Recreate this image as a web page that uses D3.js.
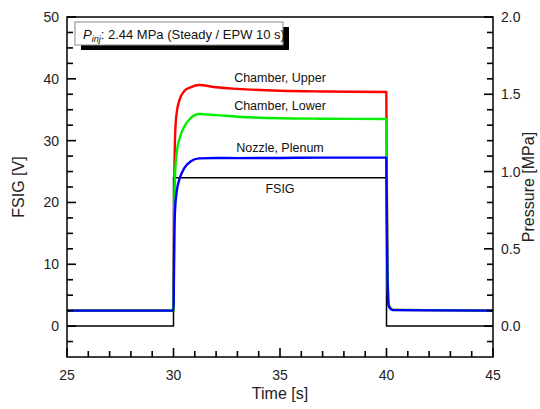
<!DOCTYPE html>
<html>
<head>
<meta charset="utf-8">
<script src="https://cdn.jsdelivr.net/npm/d3@7"></script>
</head>
<body style="margin:0;background:#fff">
<div id="chart"></div>
<script>
// time axis [s]
const time = [25, 30, 30.04, 30.08, 30.15, 30.3, 30.5, 30.8, 31.2, 32.0, 33.0, 35.0, 37.0, 39.99, 40.03, 40.1, 40.3, 45];
// pressures [MPa]
const chamberUpper = [0.1, 0.1, 0.95, 1.25, 1.38, 1.47, 1.52, 1.545, 1.56, 1.545, 1.535, 1.523, 1.518, 1.515, 0.6, 0.14, 0.105, 0.1];
const chamberLower = [0.1, 0.1, 0.75, 1.00, 1.12, 1.22, 1.29, 1.345, 1.372, 1.365, 1.355, 1.345, 1.342, 1.34, 0.55, 0.14, 0.105, 0.1];
const nozzlePlenum = [0.1, 0.1, 0.60, 0.77, 0.87, 0.96, 1.02, 1.065, 1.085, 1.088, 1.087, 1.088, 1.09, 1.09, 0.45, 0.13, 0.103, 0.1];
// FSIG [V], step signal
const fsigTime = [25, 30, 40, 45];
const fsigValue = [0, 24, 0, 0];

const xTicks = [25, 30, 35, 40, 45];
const yTicks = [0, 10, 20, 30, 40, 50];
const pTicks = [0.0, 0.5, 1.0, 1.5, 2.0];

const W = 540, H = 409;
const margin = { top: 17, right: 47, bottom: 52, left: 67 };
const font = "Arial, 'Liberation Sans', sans-serif";

const svg = d3.select("#chart").append("svg")
    .attr("width", W).attr("height", H)
    .attr("font-family", font);

const x = d3.scaleLinear().domain([25, 45]).range([margin.left, W - margin.right]);
const y = d3.scaleLinear().domain([-5, 50]).range([H - margin.bottom, margin.top]);
const yP = d3.scaleLinear().domain([-0.2, 2.0]).range([H - margin.bottom, margin.top]);

// minor tick positions
const minorX = d3.range(26, 45, 1).filter(v => !xTicks.includes(v));
const minorY = d3.range(-2.5, 50, 2.5).filter(v => !yTicks.includes(v));
const minorP = d3.range(-1, 20, 1).map(v => v / 10).filter(v => !pTicks.includes(v));

const x0 = x(25), x1 = x(45), yb = y(-5), yt = y(50);

// FSIG line
const fsigLine = d3.line()
    .x((d, i) => x(fsigTime[i]))
    .y(d => y(d))
    .curve(d3.curveStepAfter);
svg.append("path").datum(fsigValue)
    .attr("fill", "none").attr("stroke", "#000").attr("stroke-width", 1.5)
    .attr("d", fsigLine);

// pressure lines
const pLine = d3.line()
    .x((d, i) => x(time[i]))
    .y(d => yP(d))
    .curve(d3.curveMonotoneX);
const series = [
    { values: chamberUpper, color: "#ff0000" },
    { values: chamberLower, color: "#00ee00" },
    { values: nozzlePlenum, color: "#0000ff" }
];
series.forEach(s => {
    svg.append("path").datum(s.values)
        .attr("fill", "none").attr("stroke", s.color)
        .attr("stroke-width", 2.4).attr("stroke-linejoin", "round")
        .attr("d", pLine);
});

// frame
svg.append("rect")
    .attr("x", x0).attr("y", yt)
    .attr("width", x1 - x0).attr("height", yb - yt)
    .attr("fill", "none").attr("stroke", "#000").attr("stroke-width", 1.5);

// ticks as small filled rects, pointing into the plot
const ticks = svg.append("g").attr("fill", "#000");
ticks.selectAll(".tx").data(xTicks.map(v => ({ v, len: 9 })).concat(minorX.map(v => ({ v, len: 6 }))))
    .join("rect")
    .attr("x", d => x(d.v) - 0.8).attr("y", d => yb - d.len)
    .attr("width", 1.6).attr("height", d => d.len);
ticks.selectAll(".ty").data(yTicks.map(v => ({ v, len: 9 })).concat(minorY.map(v => ({ v, len: 6 }))))
    .join("rect")
    .attr("x", x0).attr("y", d => y(d.v) - 0.8)
    .attr("width", d => d.len).attr("height", 1.6);
ticks.selectAll(".tp").data(pTicks.map(v => ({ v, len: 9 })).concat(minorP.map(v => ({ v, len: 6 }))))
    .join("rect")
    .attr("x", d => x1 - d.len).attr("y", d => yP(d.v) - 0.8)
    .attr("width", d => d.len).attr("height", 1.6);

// tick labels
const tickText = svg.append("g").attr("font-size", 14).attr("fill", "#222");
tickText.selectAll(".xl").data(xTicks).join("text")
    .attr("x", d => x(d)).attr("y", yb + 23)
    .attr("text-anchor", "middle").text(d => d);
tickText.selectAll(".yl").data(yTicks).join("text")
    .attr("x", x0 - 8).attr("y", d => y(d) + 5)
    .attr("text-anchor", "end").text(d => d);
tickText.selectAll(".pl").data(pTicks).join("text")
    .attr("x", x1 + 8).attr("y", d => yP(d) + 5)
    .attr("text-anchor", "start").text(d => d.toFixed(1));

// axis titles
svg.append("text").attr("x", (x0 + x1) / 2).attr("y", 399)
    .attr("text-anchor", "middle").attr("font-size", 16).attr("fill", "#222").text("Time [s]");
svg.append("text").attr("transform", `translate(24,${(yb + yt) / 2}) rotate(-90)`)
    .attr("text-anchor", "middle").attr("font-size", 16).attr("fill", "#222").text("FSIG [V]");
svg.append("text").attr("transform", `translate(534,${(yb + yt) / 2}) rotate(-90)`)
    .attr("text-anchor", "middle").attr("font-size", 16).attr("fill", "#222").text("Pressure [MPa]");

// line labels
const labels = [
    { text: "Chamber, Upper", v: 39.5 },
    { text: "Chamber, Lower", v: 34.9 },
    { text: "Nozzle, Plenum", v: 28.2 },
    { text: "FSIG", v: 21.6 }
];
svg.selectAll(".lbl").data(labels).join("text")
    .attr("x", x(35)).attr("y", d => y(d.v))
    .attr("text-anchor", "middle").attr("font-size", 12.5).attr("fill", "#111")
    .text(d => d.text);

// annotation box with shadow
const bx = 75, by = 22, bw = 208, bh = 23;
svg.append("rect").attr("x", bx + 6).attr("y", by + 5).attr("width", bw).attr("height", bh).attr("fill", "#000");
svg.append("rect").attr("x", bx).attr("y", by).attr("width", bw).attr("height", bh)
    .attr("fill", "#fff").attr("stroke", "#888").attr("stroke-width", 1);
const ann = svg.append("text").attr("x", bx + 8).attr("y", by + 17)
    .attr("font-size", 13).attr("fill", "#111");
ann.append("tspan").attr("font-style", "italic").text("P");
ann.append("tspan").attr("font-style", "italic").attr("font-size", 9).attr("dy", 3).text("inj");
ann.append("tspan").attr("dy", -3).text(": 2.44 MPa (Steady / EPW 10 s)");
</script>
</body>
</html>
